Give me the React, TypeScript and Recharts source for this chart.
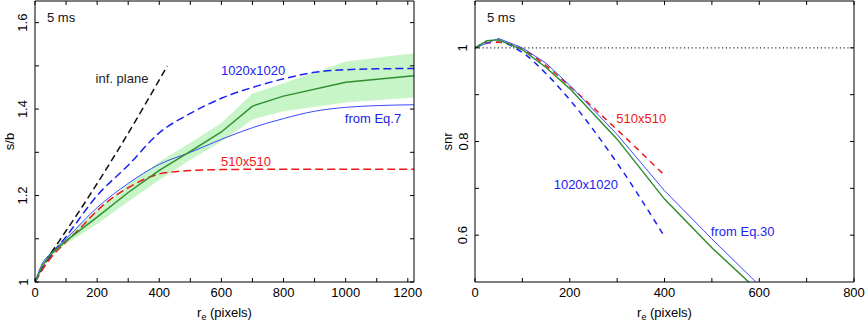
import { ComposedChart, Line, Area, XAxis, YAxis, ReferenceLine, ReferenceDot } from "recharts";

// left panel: s/b vs r_e
const sbSim: [number, number][] = [
  [0, 1], [25, 1.039], [50, 1.064], [100, 1.095], [200, 1.15], [300, 1.207], [400, 1.258],
  [500, 1.302], [600, 1.347], [700, 1.407], [800, 1.43], [1000, 1.462], [1220, 1.477],
];
const sbBand: [number, number, number][] = [
  [0, 1, 1], [25, 1.035, 1.043], [50, 1.058, 1.07], [100, 1.088, 1.104], [200, 1.134, 1.167],
  [300, 1.186, 1.226], [400, 1.236, 1.278], [500, 1.283, 1.322], [600, 1.325, 1.368],
  [700, 1.376, 1.436], [800, 1.395, 1.46], [1000, 1.415, 1.51], [1220, 1.427, 1.529],
];
const sbEq7: [number, number][] = [
  [0, 1], [25, 1.045], [50, 1.066], [100, 1.1], [200, 1.172], [300, 1.228], [400, 1.272],
  [500, 1.3], [600, 1.33], [700, 1.357], [800, 1.378], [900, 1.395], [1000, 1.404], [1100, 1.408], [1220, 1.41],
];
const sb1020: [number, number][] = [
  [0, 1], [50, 1.06], [100, 1.105], [200, 1.2], [300, 1.27], [400, 1.345], [500, 1.39],
  [600, 1.425], [700, 1.45], [800, 1.47], [900, 1.485], [1000, 1.491], [1100, 1.493], [1220, 1.494],
];
const sb510: [number, number][] = [
  [0, 1], [25, 1.03], [50, 1.055], [100, 1.093], [150, 1.128], [200, 1.165], [250, 1.195],
  [300, 1.218], [350, 1.237], [400, 1.25], [450, 1.255], [500, 1.258], [600, 1.26], [800, 1.261], [1220, 1.261],
];
const sbInf: [number, number][] = [
  [0, 1], [50, 1.065], [80, 1.097], [150, 1.172], [284, 1.325], [426, 1.5],
];

// right panel: snr vs r_e
const snrSim: [number, number][] = [
  [0, 1], [25, 1.015], [50, 1.017], [100, 0.996], [150, 0.958], [200, 0.913], [300, 0.805],
  [400, 0.677], [500, 0.573], [578, 0.5],
];
const snrEq30: [number, number][] = [
  [0, 1], [50, 1.02], [100, 1.0], [150, 0.967], [200, 0.92], [300, 0.815], [400, 0.695],
  [500, 0.592], [593, 0.5],
];
const snr510: [number, number][] = [
  [0, 1], [25, 1.011], [50, 1.012], [100, 0.997], [150, 0.962], [200, 0.918], [300, 0.825], [400, 0.728],
];
const snr1020: [number, number][] = [
  [0, 1], [25, 1.01], [50, 1.012], [100, 0.99], [150, 0.945], [200, 0.889], [300, 0.754], [400, 0.597],
];

const xTicksL = [0, 100, 200, 300, 400, 500, 600, 700, 800, 900, 1000, 1100, 1200];
const xLabelsL = [0, 200, 400, 600, 800, 1000, 1200];
const yTicksL = [1, 1.1, 1.2, 1.3, 1.4, 1.5, 1.6];
const yLabelsL = [1, 1.2, 1.4, 1.6];
const xTicksR = [0, 100, 200, 300, 400, 500, 600, 700, 800];
const xLabelsR = [0, 200, 400, 600, 800];
const yTicksR = [0.6, 0.7, 0.8, 0.9, 1];
const yLabelsR = [0.6, 0.8, 1];

const pts = (a: [number, number][]) => a.map(([x, y]) => ({ x, y }));
const band = (a: [number, number, number][]) => a.map(([x, lo, hi]) => ({ x, lo, hi }));

const FS = 13;
const TL = 4;

type Side = "bottom" | "top" | "left" | "right";

function makeTick(side: Side, labels: number[] = []) {
  return (p: any) => {
    const { x, y, payload } = p;
    const v = payload.value;
    const show = labels.includes(v);
    if (side === "bottom")
      return (
        <g>
          <line x1={x} y1={y} x2={x} y2={y - TL} stroke="#000" />
          {show && (
            <text x={x} y={y + 15} textAnchor="middle" fontSize={FS} fill="#000">
              {String(v)}
            </text>
          )}
        </g>
      );
    if (side === "top") return <line x1={x} y1={y} x2={x} y2={y + TL} stroke="#000" />;
    if (side === "right") return <line x1={x} y1={y} x2={x - TL} y2={y} stroke="#000" />;
    const tx = x - 12;
    return (
      <g>
        <line x1={x} y1={y} x2={x + TL} y2={y} stroke="#000" />
        {show && (
          <text
            x={tx}
            y={y}
            transform={`rotate(-90, ${tx}, ${y})`}
            textAnchor="middle"
            dominantBaseline="central"
            fontSize={FS}
            fill="#000"
          >
            {String(v)}
          </text>
        )}
      </g>
    );
  };
}

const yTitle = (text: string, dx: number) => (props: any) => {
  const { x, y, height } = props.viewBox;
  const cx = x + dx;
  const cy = y + height / 2;
  return (
    <text x={cx} y={cy} transform={`rotate(-90, ${cx}, ${cy})`} textAnchor="middle" dominantBaseline="central" fontSize={FS} fill="#000">
      {text}
    </text>
  );
};

const xTitle = (props: any) => {
  const { x, y, width } = props.viewBox;
  return (
    <text x={x + width / 2} y={y + 35} textAnchor="middle" fontSize={FS} fill="#000">
      r<tspan dy={3} fontSize={9}>e</tspan>
      <tspan dy={-3}> (pixels)</tspan>
    </text>
  );
};

const note = (x: number, y: number, text: string, color: string) => (
  <ReferenceDot
    x={x}
    y={y}
    r={0}
    fill="none"
    stroke="none"
    label={{ value: text, position: "center", fill: color, fontSize: FS }}
  />
);

const GREEN = "#2f8f2f";
const BAND = "#c8f5c8";
const BLUE = "#1a22ee";
const BLUE_THIN = "#3a48ff";
const RED = "#f01818";

function SbChart() {
  return (
    <ComposedChart width={430} height={324} margin={{ top: 0, right: 15, bottom: 0, left: 0 }}>
      <XAxis
        dataKey="x"
        type="number"
        domain={[0, 1220]}
        allowDataOverflow
        ticks={xTicksL}
        interval={0}
        tickSize={0}
        tickMargin={0}
        tickLine={false}
        height={42}
        stroke="#000"
        tick={makeTick("bottom", xLabelsL)}
        label={xTitle}
      />
      <XAxis
        xAxisId="top"
        orientation="top"
        dataKey="x"
        type="number"
        domain={[0, 1220]}
        allowDataOverflow
        ticks={xTicksL}
        interval={0}
        tickSize={0}
        tickMargin={0}
        tickLine={false}
        height={1}
        stroke="#000"
        tick={makeTick("top")}
      />
      <YAxis
        type="number"
        domain={[1, 1.65]}
        allowDataOverflow
        ticks={yTicksL}
        interval={0}
        tickSize={0}
        tickMargin={0}
        tickLine={false}
        width={35}
        stroke="#000"
        tick={makeTick("left", yLabelsL)}
        label={yTitle("s/b", 9)}
      />
      <YAxis
        yAxisId="right"
        orientation="right"
        type="number"
        domain={[1, 1.65]}
        allowDataOverflow
        ticks={yTicksL}
        interval={0}
        tickSize={0}
        tickMargin={0}
        tickLine={false}
        width={1}
        stroke="#000"
        tick={makeTick("right")}
      />
      <Area
        data={band(sbBand)}
        dataKey={(d: any) => [d.lo, d.hi]}
        type="linear"
        stroke="none"
        fill={BAND}
        fillOpacity={1}
        isAnimationActive={false}
      />
      <Line data={pts(sbInf)} dataKey="y" type="monotone" stroke="#111" strokeWidth={1.5} strokeDasharray="7 4" dot={false} isAnimationActive={false} />
      <Line data={pts(sb1020)} dataKey="y" type="monotone" stroke={BLUE} strokeWidth={1.5} strokeDasharray="8 4" dot={false} isAnimationActive={false} />
      <Line data={pts(sb510)} dataKey="y" type="monotone" stroke={RED} strokeWidth={1.5} strokeDasharray="8 4" dot={false} isAnimationActive={false} />
      <Line data={pts(sbEq7)} dataKey="y" type="monotone" stroke={BLUE_THIN} strokeWidth={1} dot={false} isAnimationActive={false} />
      <Line data={pts(sbSim)} dataKey="y" type="linear" stroke={GREEN} strokeWidth={1.5} dot={false} isAnimationActive={false} />
      {note(84, 1.613, "5 ms", "#111")}
      {note(280, 1.47, "inf. plane", "#222")}
      {note(702, 1.49, "1020x1020", BLUE)}
      {note(1088, 1.379, "from Eq.7", BLUE)}
      {note(679, 1.278, "510x510", RED)}
    </ComposedChart>
  );
}

function SnrChart() {
  return (
    <ComposedChart width={435} height={324} margin={{ top: 0, right: 10, bottom: 0, left: 0 }}>
      <XAxis
        dataKey="x"
        type="number"
        domain={[0, 800]}
        allowDataOverflow
        ticks={xTicksR}
        interval={0}
        tickSize={0}
        tickMargin={0}
        tickLine={false}
        height={42}
        stroke="#000"
        tick={makeTick("bottom", xLabelsR)}
        label={xTitle}
      />
      <XAxis
        xAxisId="top"
        orientation="top"
        dataKey="x"
        type="number"
        domain={[0, 800]}
        allowDataOverflow
        ticks={xTicksR}
        interval={0}
        tickSize={0}
        tickMargin={0}
        tickLine={false}
        height={1}
        stroke="#000"
        tick={makeTick("top")}
      />
      <YAxis
        type="number"
        domain={[0.5, 1.1]}
        allowDataOverflow
        ticks={yTicksR}
        interval={0}
        tickSize={0}
        tickMargin={0}
        tickLine={false}
        width={45}
        stroke="#000"
        tick={makeTick("left", yLabelsR)}
        label={yTitle("snr", 17)}
      />
      <YAxis
        yAxisId="right"
        orientation="right"
        type="number"
        domain={[0.5, 1.1]}
        allowDataOverflow
        ticks={yTicksR}
        interval={0}
        tickSize={0}
        tickMargin={0}
        tickLine={false}
        width={1}
        stroke="#000"
        tick={makeTick("right")}
      />
      <ReferenceLine y={1} stroke="#333" strokeWidth={1.2} strokeDasharray="1.2 2.6" />
      <Line data={pts(snr1020)} dataKey="y" type="monotone" stroke={BLUE} strokeWidth={1.5} strokeDasharray="6 5" dot={false} isAnimationActive={false} />
      <Line data={pts(snr510)} dataKey="y" type="monotone" stroke={RED} strokeWidth={1.5} strokeDasharray="6 5" dot={false} isAnimationActive={false} />
      <Line data={pts(snrEq30)} dataKey="y" type="linear" stroke={BLUE_THIN} strokeWidth={1} dot={false} isAnimationActive={false} />
      <Line data={pts(snrSim)} dataKey="y" type="linear" stroke={GREEN} strokeWidth={1.5} dot={false} isAnimationActive={false} />
      {note(55, 1.066, "5 ms", "#111")}
      {note(351, 0.85, "510x510", RED)}
      {note(234, 0.709, "1020x1020", BLUE)}
      {note(565, 0.609, "from Eq.30", BLUE)}
    </ComposedChart>
  );
}

export default function App() {
  return (
    <div
      style={{
        position: "absolute",
        left: 0,
        top: 0,
        width: 865,
        height: 324,
        background: "#fff",
        fontFamily: "'Liberation Sans', Arial, sans-serif",
      }}
    >
      <div style={{ position: "absolute", left: 0, top: 0 }}>
        <SbChart />
      </div>
      <div style={{ position: "absolute", left: 430, top: 0 }}>
        <SnrChart />
      </div>
    </div>
  );
}
